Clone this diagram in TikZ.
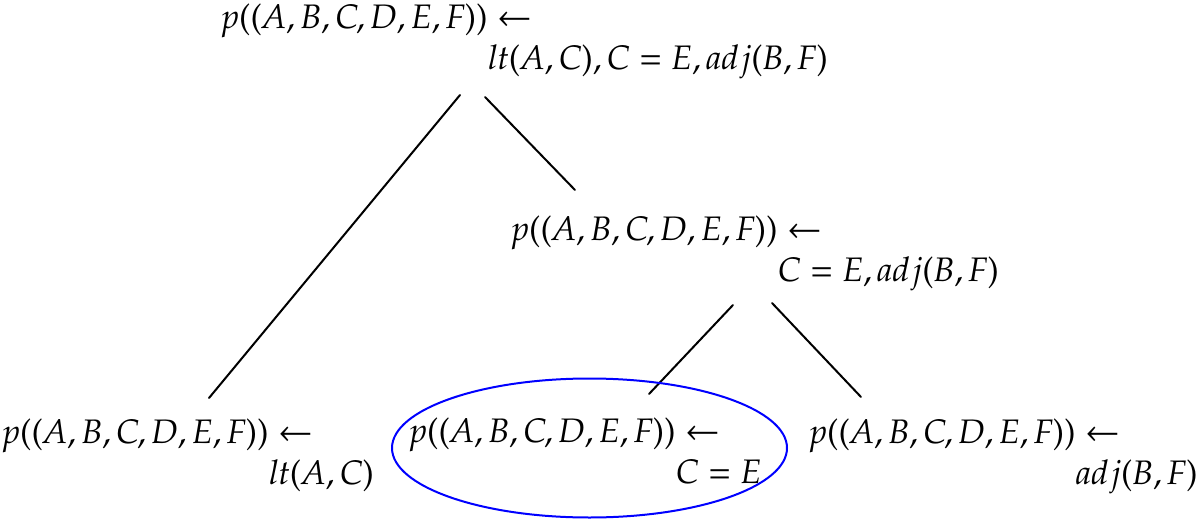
\documentclass[tikz,border=0pt]{standalone}
\usepackage{pxfonts}
\tikzset{
  tn/.style={inner sep=0pt, anchor=base west, font=\fontsize{34}{41}\selectfont},
  edge/.style={line width=2pt, line cap=round},
  sel/.style={draw=blue, line width=2pt}
}
\newcommand{\twolines}[2]{\begin{tabular}[t]{@{}l@{}}#1\\\hspace*{266pt}#2\end{tabular}}
\begin{document}
\begin{tikzpicture}[x=1pt,y=-1pt]
\useasboundingbox (0,0) rectangle (1198,524);
\node[tn] (top) at (222,29) {\twolines{$p((A,B,C,D,E,F))\leftarrow$}{$lt(A,C), C=E, adj(B,F)$}};
\node[tn] (mid) at (512,240) {\twolines{$p((A,B,C,D,E,F))\leftarrow$}{$C=E, adj(B,F)$}};
\node[tn] (bl) at (3,443) {\twolines{$p((A,B,C,D,E,F))\leftarrow$}{$lt(A,C)$}};
\node[tn] (bm) at (410,442) {\twolines{$p((A,B,C,D,E,F))\leftarrow$}{$C=E$}};
\node[tn] (br) at (810,443) {\twolines{$p((A,B,C,D,E,F))\leftarrow$}{$adj(B,F)$}};
\coordinate (top-a) at (460,95);
\coordinate (top-b) at (485,97);
\coordinate (bl-a) at (209,398);
\coordinate (mid-in) at (575,190);
\coordinate (mid-a) at (733,305);
\coordinate (mid-b) at (772,303);
\coordinate (bm-a) at (649,394);
\coordinate (br-a) at (861,397);
\draw[edge] (top-a) -- (bl-a);
\draw[edge] (top-b) -- (mid-in);
\draw[edge] (mid-a) -- (bm-a);
\draw[edge] (mid-b) -- (br-a);
\draw[sel] (589.5,448) ellipse [x radius=197.5, y radius=69.5];
\end{tikzpicture}
\end{document}
